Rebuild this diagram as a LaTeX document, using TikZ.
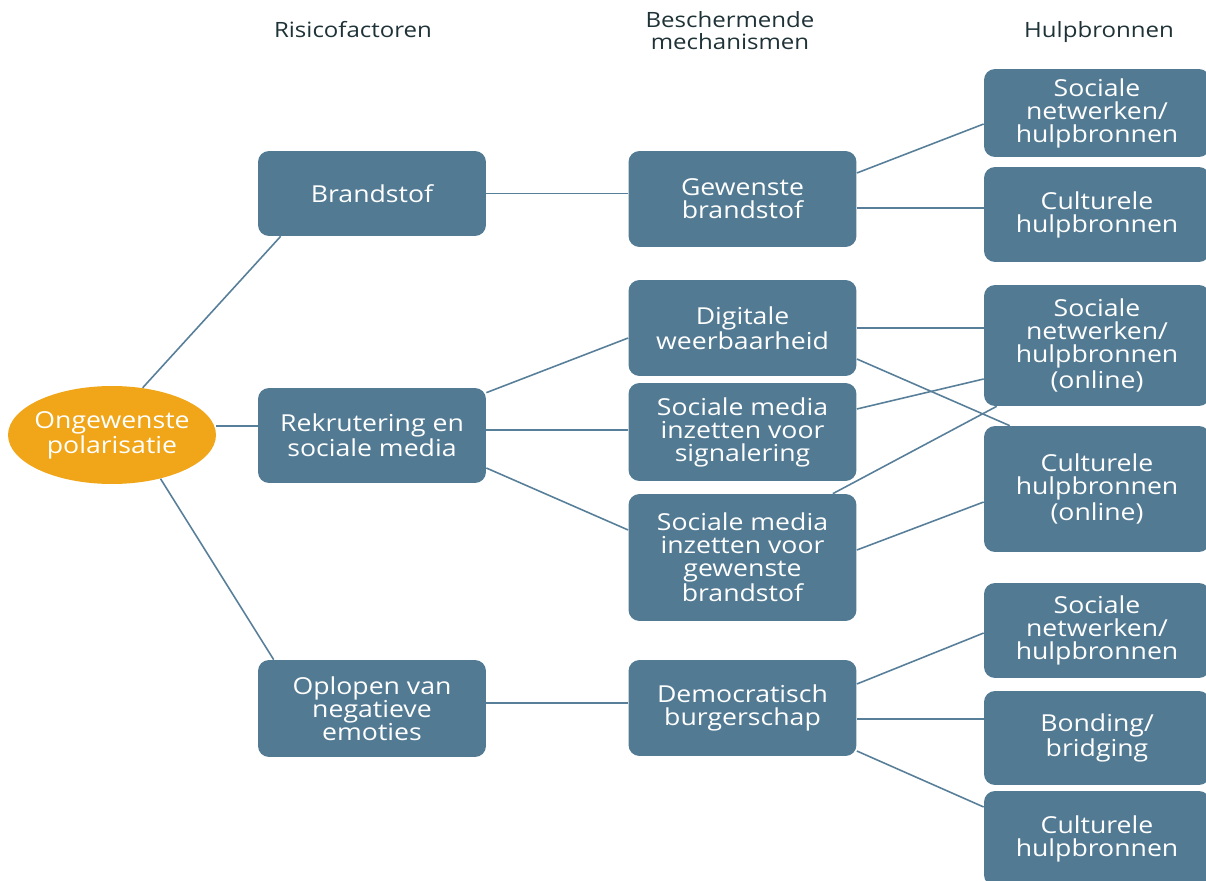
\documentclass[tikz,border=0pt]{standalone}
\usepackage{fontspec}
\setmainfont{Open Sans}[FakeStretch=1.14]
\usetikzlibrary{shapes.geometric}

\definecolor{boxblue}{RGB}{82,122,147}
\definecolor{linkblue}{RGB}{88,127,153}
\definecolor{polorange}{RGB}{240,166,24}
\definecolor{headtext}{RGB}{30,50,55}

\begin{document}
\begin{tikzpicture}[x=0.02cm, y=-0.02cm,
		box/.style={rectangle, rounded corners=0.22cm, fill=boxblue, text=white, align=center, inner sep=0pt, minimum width=4.56cm, font=\fontsize{13.3}{13.1}\selectfont},
		rbox/.style={box, minimum width=4.52cm},
		head/.style={text=headtext, align=center, font=\fontsize{12}{12.5}\selectfont},
		link/.style={draw=linkblue, line width=0.9pt}]
		\useasboundingbox (0, 0) rectangle (1206, 881);
		\clip (0, 0) rectangle (1206, 881);

		\draw (353, 38) 	node[head, anchor=base] (hrisk) 	{Risicofactoren};
		\draw (730, 31) 	node[head] (hprot) 	{Beschermende\\mechanismen};
		\draw (1099, 38) 	node[head, anchor=base] (hres) 	{Hulpbronnen};

		\draw (112, 435) 	node[ellipse, fill=polorange, text=white, align=center, inner xsep=-3.5pt, inner ysep=0pt, minimum width=4.16cm, minimum height=1.96cm, font=\fontsize{13.3}{13.1}\selectfont] (pol) {Ongewenste\\polarisatie};

		\draw (372, 193.5) 	node[box, minimum height=1.70cm] (brand) 	{Brandstof};
		\draw (372, 435.5) 	node[box, minimum height=1.90cm] (rekr) 	{Rekrutering en\\sociale media};
		\draw (372, 708.5) 	node[box, minimum height=1.94cm] (oplo) 	{Oplopen van\\negatieve\\emoties};

		\draw (742.5, 199) 	node[box, minimum height=1.92cm] (gew) 	{Gewenste\\brandstof};
		\draw (742.5, 328) 	node[box, minimum height=1.92cm] (dig) 	{Digitale\\weerbaarheid};
		\draw (742.5, 432) 	node[box, minimum height=1.96cm] (sig) 	{Sociale media\\inzetten voor\\signalering};
		\draw (742.5, 557.5) 	node[box, minimum height=2.54cm] (gbr) 	{Sociale media\\inzetten voor\\gewenste\\brandstof};
		\draw (742.5, 708) 	node[box, minimum height=1.92cm] (dem) 	{Democratisch\\burgerschap};

		\draw (1097, 113) 	node[rbox, minimum height=1.76cm] (sn1) 	{Sociale\\netwerken/\\hulpbronnen};
		\draw (1097, 214.5) 	node[rbox, minimum height=1.90cm] (cu1) 	{Culturele\\hulpbronnen};
		\draw (1097, 345.5) 	node[rbox, minimum height=2.42cm] (sn2) 	{Sociale\\netwerken/\\hulpbronnen\\(online)};
		\draw (1097, 489) 	node[rbox, minimum height=2.52cm] (cu2) 	{Culturele\\hulpbronnen\\(online)};
		\draw (1097, 630.5) 	node[rbox, minimum height=1.90cm] (sn3) 	{Sociale\\netwerken/\\hulpbronnen};
		\draw (1097, 738) 	node[rbox, minimum height=1.88cm] (bon) 	{Bonding/\\bridging};
		\draw (1097, 838.5) 	node[rbox, minimum height=1.90cm] (cu3) 	{Culturele\\hulpbronnen};

		% risicofactoren
		\draw[link] (pol.57) -- ([xshift=0.46cm]brand.south west);
		\draw[link] ([yshift=0.18cm]pol.east) -- ([yshift=0.18cm]pol.east -| rekr.west);
		\draw[link] (pol.-42) -- ([xshift=0.32cm]oplo.north west);

		% beschermende mechanismen
		\draw[link] (brand.east) -- (brand.east -| gew.west);
		\draw[link] ([yshift=-0.1cm]rekr.north east) -- ([yshift=-0.2cm]dig.west);
		\draw[link] ([yshift=0.11cm]rekr.east) -- ([yshift=0.11cm]rekr.east -| sig.west);
		\draw[link] ([yshift=-0.65cm]rekr.east) -- ([yshift=0.55cm]gbr.west);
		\draw[link] ([yshift=0.11cm]oplo.east) -- ([yshift=0.11cm]oplo.east -| dem.west);

		% hulpbronnen
		\draw[link] ([yshift=0.52cm]gew.east) -- ([yshift=-0.22cm]sn1.west);
		\draw[link] ([yshift=-0.18cm]gew.east) -- ([yshift=-0.18cm]gew.east -| cu1.west);
		\draw[link] (dig.east) -- (dig.east -| sn2.west);
		\draw[link] ([yshift=-0.62cm]dig.east) -- ([xshift=0.52cm]cu2.north west);
		\draw[link] ([yshift=0.46cm]sig.east) -- ([yshift=-0.67cm]sn2.west);
		\draw[link] ([xshift=-0.48cm]gbr.north east) -- ([xshift=0.26cm]sn2.south west);
		\draw[link] ([yshift=0.15cm]gbr.east) -- ([yshift=-0.26cm]cu2.west);
		\draw[link] ([yshift=0.48cm]dem.east) -- ([yshift=-0.05cm]sn3.west);
		\draw[link] ([yshift=-0.22cm]dem.east) -- ([yshift=-0.22cm]dem.east -| bon.west);
		\draw[link] ([yshift=-0.86cm]dem.east) -- ([yshift=0.63cm]cu3.west);
	\end{tikzpicture}
\end{document}
